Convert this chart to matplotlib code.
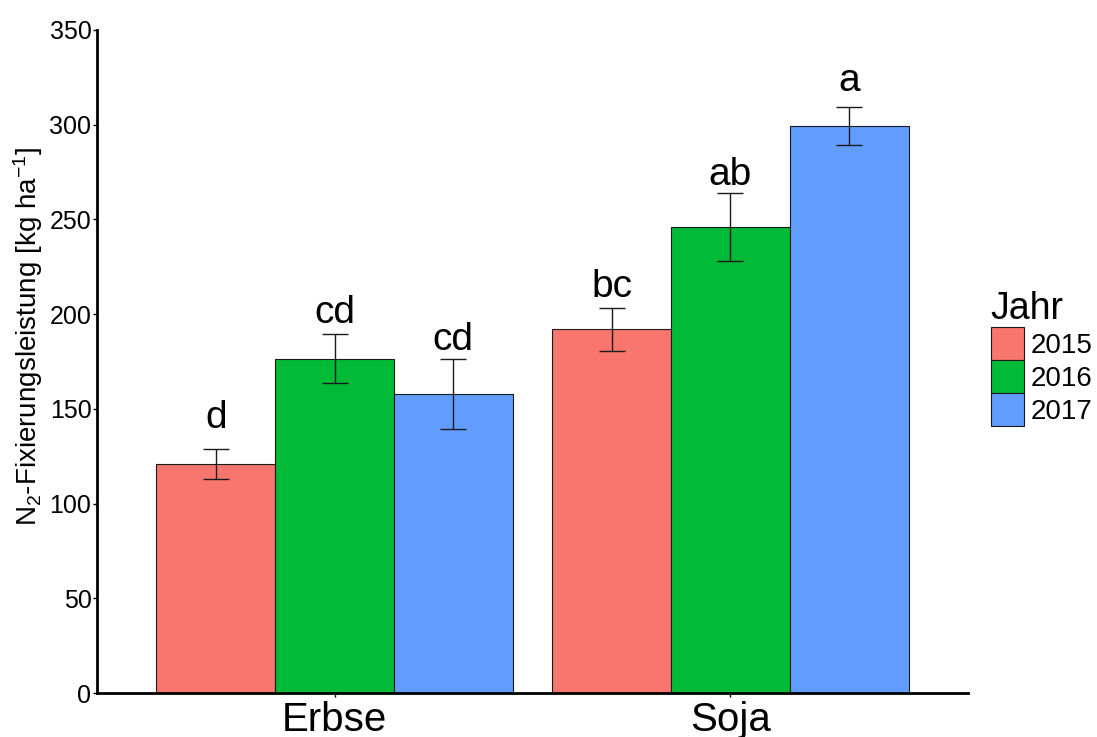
import matplotlib
matplotlib.use("Agg")
import matplotlib.pyplot as plt
from matplotlib.patches import Patch
import numpy as np

plt.rcParams['font.family'] = ['Liberation Sans', 'DejaVu Sans']
plt.rcParams['mathtext.fontset'] = 'custom'
plt.rcParams['mathtext.rm'] = 'Liberation Sans'
plt.rcParams['mathtext.it'] = 'Liberation Sans:italic'
plt.rcParams['mathtext.bf'] = 'Liberation Sans:bold'

# ---- data ----
categories = ["Erbse", "Soja"]
years = ["2015", "2016", "2017"]
colors = ["#F8766D", "#00BA38", "#619CFF"]
means = {
    "2015": [121.0, 192.0],
    "2016": [176.2, 245.9],
    "2017": [157.7, 299.4],
}
err_low = {
    "2015": [112.8, 180.6],
    "2016": [163.7, 228.1],
    "2017": [139.2, 289.5],
}
err_high = {
    "2015": [129.0, 203.1],
    "2016": [189.5, 263.8],
    "2017": [176.2, 309.6],
}
letters = {
    "2015": ["d", "bc"],
    "2016": ["cd", "ab"],
    "2017": ["cd", "a"],
}
letter_y = {
    "2015": [139.9, 209.0],
    "2016": [195.4, 268.0],
    "2017": [181.1, 317.8],
}
yticks = [0, 50, 100, 150, 200, 250, 300, 350]

fig = plt.figure(figsize=(10.97, 7.37), dpi=100)
ax = fig.add_axes([0.0884, 0.0597, 0.7940, 0.8996])

x = np.arange(1, len(categories) + 1)
width = 0.3
for i, yr in enumerate(years):
    pos = x + (i - 1) * width
    m = np.array(means[yr])
    lo = m - np.array(err_low[yr])
    hi = np.array(err_high[yr]) - m
    ax.bar(pos, m, width=width, color=colors[i], edgecolor="#1a1a1a",
           linewidth=0.8, zorder=2)
    ax.errorbar(pos, m, yerr=[lo, hi], fmt="none", ecolor="#1a1a1a",
                elinewidth=1.0, capsize=9.4, capthick=1.0, zorder=3)
    for p, lab, ly in zip(pos, letters[yr], letter_y[yr]):
        ax.text(p, ly, lab, ha="center", va="baseline", fontsize=28, color="black")

ax.set_xlim(0.4, 2.6)
ax.set_ylim(0, 350)
ax.set_yticks(yticks)
ax.set_yticklabels([str(t) for t in yticks], fontsize=18)
ax.set_xticks(x)
ax.set_xticklabels(categories, fontsize=29)

for s in ["top", "right"]:
    ax.spines[s].set_visible(False)
ax.spines["left"].set_linewidth(2.0)
ax.spines["bottom"].set_linewidth(2.0)
ax.tick_params(axis="y", length=3, width=1, pad=1, color="black")
ax.tick_params(axis="x", length=3, width=1, pad=3, color="black")

ax.set_ylabel("N$_2$-Fixierungsleistung [kg ha$^{-1}$]", fontsize=20)
ax.yaxis.set_label_coords(-0.060, 0.538)

handles = [Patch(facecolor=c, edgecolor="#1a1a1a", linewidth=0.8) for c in colors]
leg = fig.legend(handles, years, title="Jahr", loc="center left",
                 bbox_to_anchor=(0.903, 0.513), frameon=False, fontsize=20,
                 title_fontsize=27, handlelength=1.2, handleheight=1.45,
                 labelspacing=0.0, handletextpad=0.25, borderpad=0.0,
                 borderaxespad=0.0, alignment="left")

fig.savefig("out.png", dpi=100)
